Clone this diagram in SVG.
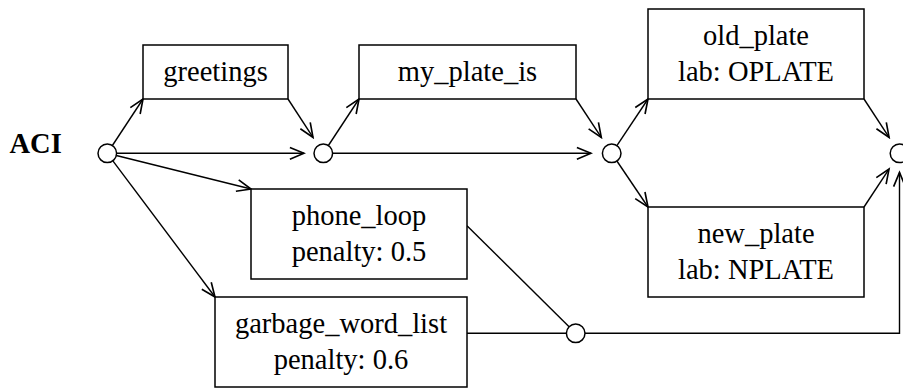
<svg xmlns="http://www.w3.org/2000/svg" width="903" height="389" viewBox="0 0 903 389">
<style>
.box{fill:#fff;stroke:#000;stroke-width:1.5}
.st{fill:#fff;stroke:#000;stroke-width:1.5}
.t{font-family:"Liberation Serif","Times New Roman",serif;font-size:28.5px;fill:#000;text-anchor:middle}
.c line,.c polyline{stroke:#000;stroke-width:1.4;fill:none}
.a{marker-end:url(#arr)}
</style>
<defs>
<marker id="arr" markerUnits="userSpaceOnUse" markerWidth="20" markerHeight="20" viewBox="-15 -8 17 16" refX="0" refY="0" orient="auto">
<path d="M-12,-5 L0,0 L-12,5" fill="none" stroke="#000" stroke-width="1.4"/>
</marker>
</defs>
<rect width="903" height="389" fill="#fff"/>
<g class="c" id="connectors">
<line class="a" x1="112.4" y1="145.5" x2="143" y2="99"/>
<line class="a" x1="116.6" y1="153.3" x2="304" y2="153.3"/>
<line class="a" x1="116.3" y1="155.5" x2="251" y2="189"/>
<line class="a" x1="112.9" y1="160.8" x2="215" y2="297"/>
<line class="a" x1="288" y1="99" x2="313" y2="137.4"/>
<line class="a" x1="328.4" y1="145.5" x2="359" y2="99"/>
<line class="a" x1="332.6" y1="153.3" x2="591" y2="153.3"/>
<line class="a" x1="576" y1="99" x2="601.3" y2="137.4"/>
<line class="a" x1="616.9" y1="145.6" x2="648" y2="99"/>
<line class="a" x1="616.9" y1="161" x2="648" y2="207"/>
<line class="a" x1="864" y1="99" x2="889.1" y2="137.4"/>
<line class="a" x1="864" y1="207" x2="889" y2="169.1"/>
<line x1="467" y1="225.7" x2="569.1" y2="326.7"/>
<line x1="467" y1="333.3" x2="566.4" y2="333.3"/>
<polyline class="a" points="585,333.3 899.5,333.3 899.5,172.5"/>
</g>
<text x="9.5" y="153.3" font-family="'Liberation Serif','Times New Roman',serif" font-size="28.5" font-weight="bold">ACI</text>
<g id="s0"><circle class="st" cx="107.3" cy="153.3" r="9.3"/></g>
<g id="s1"><circle class="st" cx="323.3" cy="153.3" r="9.3"/></g>
<g id="s2"><circle class="st" cx="611.7" cy="153.3" r="9.3"/></g>
<g id="s3"><circle class="st" cx="899.5" cy="153.3" r="9.3"/></g>
<g id="s4"><circle class="st" cx="575.7" cy="333.3" r="9.3"/></g>
<g id="greetings"><rect class="box" x="143" y="45" width="145" height="54"/><text class="t" x="215.5" y="81">greetings</text></g>
<g id="my_plate_is"><rect class="box" x="359" y="45" width="217" height="54"/><text class="t" x="467.5" y="81">my_plate_is</text></g>
<g id="old_plate"><rect class="box" x="648" y="9" width="216" height="90"/><text class="t" x="756" y="45">old_plate</text><text class="t" x="756" y="81">lab: OPLATE</text></g>
<g id="new_plate"><rect class="box" x="648" y="207" width="216" height="90"/><text class="t" x="756" y="243">new_plate</text><text class="t" x="756" y="279">lab: NPLATE</text></g>
<g id="phone_loop"><rect class="box" x="251" y="189" width="216" height="90"/><text class="t" x="359" y="225">phone_loop</text><text class="t" x="359" y="261">penalty: 0.5</text></g>
<g id="garbage_word_list"><rect class="box" x="215" y="297" width="252" height="90"/><text class="t" x="341" y="333">garbage_word_list</text><text class="t" x="341" y="369">penalty: 0.6</text></g>
</svg>
